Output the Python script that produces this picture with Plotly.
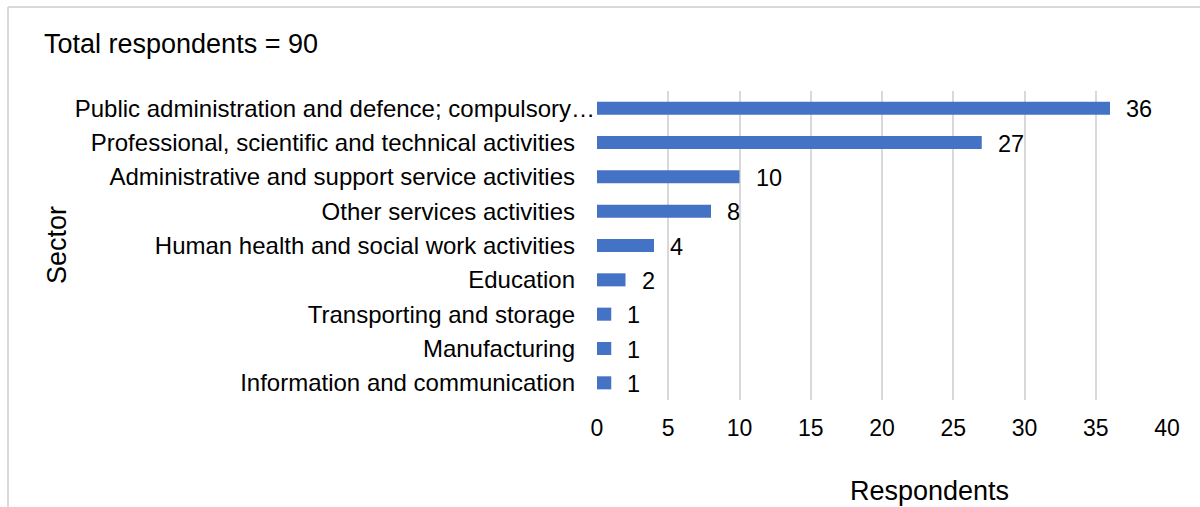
import plotly.graph_objects as go

# Respondents by sector
sectors = [
    "Public administration and defence; compulsory…",
    "Professional, scientific and technical activities",
    "Administrative and support service activities",
    "Other services activities",
    "Human health and social work activities",
    "Education",
    "Transporting and storage",
    "Manufacturing",
    "Information and communication",
]
respondents = [36, 27, 10, 8, 4, 2, 1, 1, 1]
x_ticks = [0, 5, 10, 15, 20, 25, 30, 35, 40]

W, H = 1200, 507
L, R, T, B = 597, 33, 91, 107
plot_w = W - L - R
plot_h = H - T - B

FONT = "Liberation Sans, Arial, sans-serif"
BAR = "#4472C4"
GRID = "#d9d9d9"

fig = go.Figure(
    go.Bar(
        x=respondents,
        y=sectors,
        orientation="h",
        marker=dict(color=BAR, line=dict(width=0)),
        width=0.38,
        hoverinfo="x+y",
    )
)

# value labels next to each bar
for s, v in zip(sectors, respondents):
    fig.add_annotation(
        x=v, y=s, xref="x", yref="y", text=str(v), showarrow=False,
        xanchor="left", yanchor="middle", xshift=14, yshift=-1,
        font=dict(family=FONT, size=23.5, color="#000000"),
    )

def px_to_paper_x(px):
    return (px - L) / plot_w

def px_to_paper_y(py):
    return 1 - (py - T) / plot_h

fig.add_annotation(
    x=px_to_paper_x(42), y=px_to_paper_y(44), xref="paper", yref="paper",
    text="Total respondents = 90", showarrow=False,
    xanchor="left", yanchor="middle",
    font=dict(family=FONT, size=27, color="#000000"),
)
fig.add_annotation(
    x=px_to_paper_x(929), y=px_to_paper_y(491), xref="paper", yref="paper",
    text="Respondents", showarrow=False,
    xanchor="center", yanchor="middle",
    font=dict(family=FONT, size=27, color="#000000"),
)
fig.add_annotation(
    x=px_to_paper_x(57), y=px_to_paper_y(245), xref="paper", yref="paper",
    text="Sector", showarrow=False, textangle=-90,
    xanchor="center", yanchor="middle",
    font=dict(family=FONT, size=27, color="#000000"),
)

# chart frame
fig.add_shape(type="line", xref="paper", yref="paper",
              x0=px_to_paper_x(8), x1=px_to_paper_x(1210),
              y0=px_to_paper_y(7), y1=px_to_paper_y(7),
              line=dict(color=GRID, width=2))
fig.add_shape(type="line", xref="paper", yref="paper",
              x0=px_to_paper_x(8), x1=px_to_paper_x(8),
              y0=px_to_paper_y(7), y1=px_to_paper_y(520),
              line=dict(color=GRID, width=2))

# the truncated label runs up to the axis; the others keep a gap
pad = "\u00a0" * 3
y_ticktext = [s if s.endswith("…") else s + pad for s in sectors]

fig.update_layout(
    width=W, height=H,
    margin=dict(l=L, r=R, t=T, b=B, pad=0),
    paper_bgcolor="#ffffff", plot_bgcolor="#ffffff",
    showlegend=False,
    bargap=0.62,
    font=dict(family=FONT, size=20, color="#000000"),
    xaxis=dict(
        range=[0, 40], tickvals=x_ticks, ticktext=[str(t) for t in x_ticks],
        showgrid=True, gridcolor=GRID, gridwidth=2,
        zeroline=False, showline=False, ticks="",
        tickfont=dict(family=FONT, size=23, color="#000000"),
        ticklabelstandoff=12,
    ),
    yaxis=dict(
        categoryorder="array", categoryarray=sectors[::-1],
        tickvals=sectors, ticktext=y_ticktext,
        autorange=False, range=[-0.5, len(sectors) - 0.5],
        showgrid=False, zeroline=False, showline=False, ticks="",
        tickfont=dict(family=FONT, size=24, color="#000000"),
        ticklabelstandoff=1,
    ),
)

fig.write_html("out.html")
